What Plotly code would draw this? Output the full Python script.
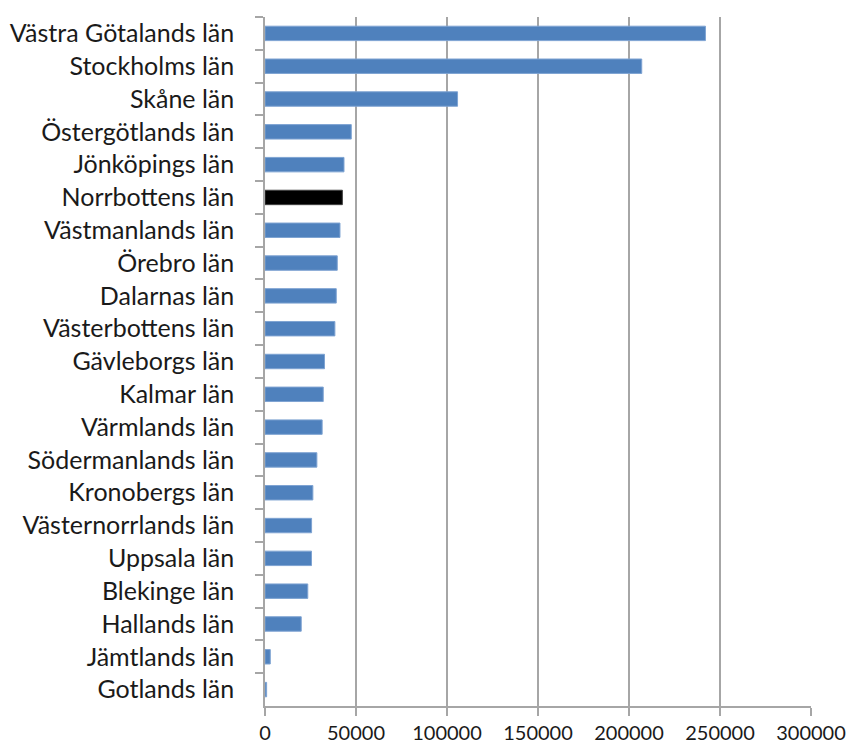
import plotly.graph_objects as go

categories = ["Västra Götalands län", "Stockholms län", "Skåne län", "Östergötlands län",
              "Jönköpings län", "Norrbottens län", "Västmanlands län", "Örebro län",
              "Dalarnas län", "Västerbottens län", "Gävleborgs län", "Kalmar län",
              "Värmlands län", "Södermanlands län", "Kronobergs län", "Västernorrlands län",
              "Uppsala län", "Blekinge län", "Hallands län", "Jämtlands län", "Gotlands län"]
values = [242000, 207000, 105800, 47400, 43400, 42500, 41200, 39700, 39150, 38400,
          32700, 32000, 31400, 28500, 26300, 25600, 25550, 23500, 19900, 2900, 900]
highlight = "Norrbottens län"
x_ticks = [0, 50000, 100000, 150000, 200000, 250000, 300000]

colors = ["#000000" if c == highlight else "#4F81BD" for c in categories]
line_colors = ["#404040" if c == highlight else "#7EA3D2" for c in categories]

fig = go.Figure(go.Bar(
    x=values, y=categories, orientation="h",
    marker=dict(color=colors, line=dict(color=line_colors, width=1)),
    width=0.44,
))

yfont = dict(family="Lato", size=25, color="#1a1a1a")
xfont = dict(family="Lato", size=20, color="#1a1a1a")
fig.update_layout(
    width=846, height=735,
    margin=dict(l=257, r=43, t=9, b=37, autoexpand=False),
    plot_bgcolor="white", paper_bgcolor="white",
    showlegend=False,
)
fig.update_xaxes(
    range=[0, 300000], tickvals=x_ticks, ticktext=[str(v) for v in x_ticks],
    showgrid=True, gridcolor="#A6A6A6", gridwidth=1.5,
    showline=True, linecolor="#A6A6A6", linewidth=1.5,
    ticks="outside", ticklen=8, tickcolor="#A6A6A6", tickwidth=1.5,
    zeroline=False, tickfont=xfont, automargin=False, ticklabelstandoff=0,
)
fig.update_yaxes(
    autorange="reversed", type="category",
    showline=True, linecolor="#A6A6A6", linewidth=1.5,
    ticks="outside", ticklen=8, tickcolor="#A6A6A6", tickwidth=1.5,
    tickson="boundaries", showgrid=False, ticklabelstandoff=24,
    tickfont=yfont, automargin=False,
)
fig.write_html("out.html")
